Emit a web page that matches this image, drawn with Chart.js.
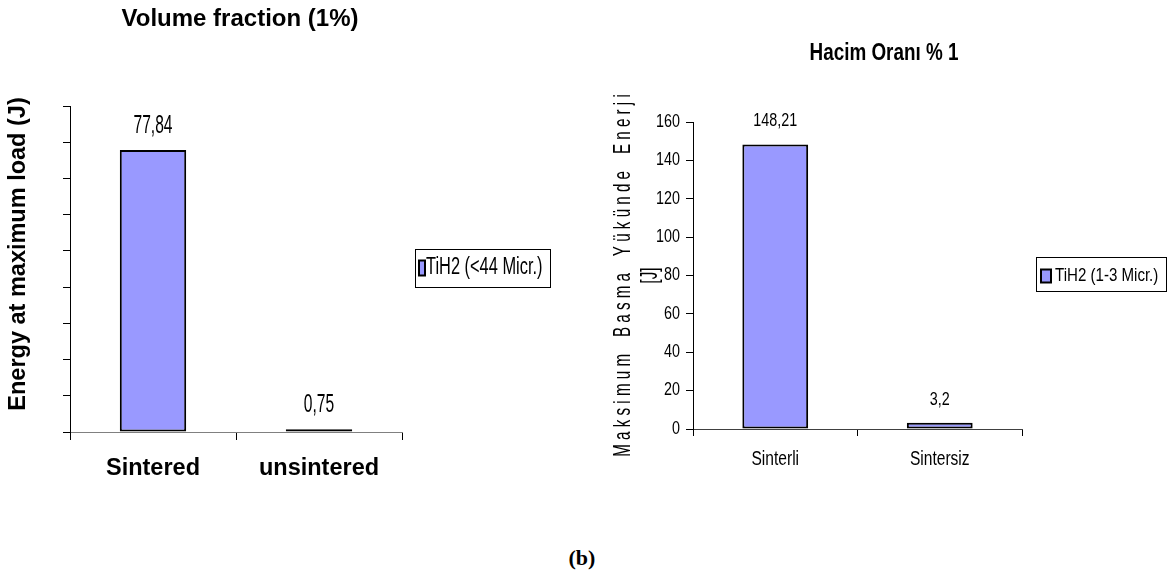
<!DOCTYPE html>
<html>
<head>
<meta charset="utf-8">
<script src="https://cdn.jsdelivr.net/npm/chart.js@4/dist/chart.umd.min.js"></script>
<style>
  html, body { margin: 0; padding: 0; background: #fff; width: 1169px; height: 572px; overflow: hidden; }
  canvas { position: absolute; top: 0; }
  #energyEn { left: 0; }
  #energyTr { left: 580px; }
  #caption { position: absolute; left: 0; width: 1164px; top: 545px; text-align: center;
             font: bold 22px 'Liberation Serif', 'Times New Roman', serif; color: #000; }
</style>
</head>
<body>
<canvas id="energyEn" width="580" height="500"></canvas>
<canvas id="energyTr" width="589" height="500"></canvas>
<div id="caption">(b)</div>
<script>
// Panel (English): energy at maximum load, 1% volume fraction
const categoriesEn = ['Sintered', 'unsintered'];
const valuesEn = [77.84, 0.75];
const seriesNameEn = 'TiH2 (<44 Micr.)';
const titleEn = 'Volume fraction (1%)';
const yTitleEn = 'Energy at maximum load (J)';
const yRangeEn = [0, 90, 10];

// Panel (Turkish): same quantity for the finer powder
const categoriesTr = ['Sinterli', 'Sintersiz'];
const valuesTr = [148.21, 3.2];
const seriesNameTr = 'TiH2 (1-3 Micr.)';
const titleTr = 'Hacim Oranı % 1';
const yTitleTr = ['M a k s i m u m    B a s m a    Y ü k ü n d e    E n e r j i', '[J]'];
const yRangeTr = [0, 160, 20];

const SANS = "'Liberation Sans', Arial, sans-serif";
const BAR_FILL = '#9999FF';
const NARROW_X = 0.82;   // horizontal squeeze that turns Arial metrics into Arial Narrow

// Draw text anchored at (x, y) with an extra scale applied around the anchor
function shapedText(ctx, txt, x, y, sx, sy) {
  ctx.save();
  ctx.translate(x, y);
  ctx.scale(sx, sy);
  ctx.fillText(txt, 0, 0);
  ctx.restore();
}

// Run fn while every fillText on ctx is squeezed/stretched around its own anchor
function withShape(ctx, sx, sy, fn) {
  const base = CanvasRenderingContext2D.prototype.fillText;
  ctx.fillText = function (t, x, y, mw) {
    this.save();
    this.translate(x, y);
    this.scale(sx, sy);
    if (mw === undefined) base.call(this, t, 0, 0);
    else base.call(this, t, 0, 0, mw / sx);
    this.restore();
  };
  try { fn(); } finally { delete ctx.fillText; }
}

function wrapScaleDraw(scale, method, s) {
  const orig = scale[method];
  scale[method] = function (...a) {
    const ctx = this.ctx;
    ctx.save();
    if (s.dy) ctx.translate(0, s.dy);
    withShape(ctx, s.sx, s.sy, () => orig.apply(this, a));
    ctx.restore();
  };
}

function makeGlyphShape(spec) {
  return {
    id: 'glyphShape',
    beforeDraw(chart) {
      Object.keys(spec).forEach(id => {
        const scale = chart.scales[id];
        if (!scale || scale.$shaped) return;
        scale.$shaped = true;
        if (spec[id].labels) wrapScaleDraw(scale, 'drawLabels', spec[id].labels);
        if (spec[id].title) wrapScaleDraw(scale, 'drawTitle', spec[id].title);
      });
    }
  };
}

// Value labels, boxed legend and panel title drawn on top of the bars
const panelDecor = {
  id: 'panelDecor',
  afterDatasetsDraw(chart, args, o) {
    const ctx = chart.ctx;
    const ds = chart.data.datasets[0];
    const meta = chart.getDatasetMeta(0);
    ctx.save();
    ctx.fillStyle = '#000';
    ctx.textAlign = 'center';
    ctx.textBaseline = 'middle';
    ctx.font = o.valueFont;
    meta.data.forEach((bar, i) => {
      const txt = String(ds.data[i]).replace('.', ',');
      shapedText(ctx, txt, bar.x, bar.y - o.valueGap, o.valueSx, o.valueSy);
    });
    ctx.restore();
  },
  afterDraw(chart, args, o) {
    const ctx = chart.ctx;
    const area = chart.chartArea;
    const ds = chart.data.datasets[0];
    ctx.save();
    // panel title
    ctx.fillStyle = '#000';
    ctx.textAlign = 'center';
    ctx.textBaseline = 'middle';
    ctx.font = o.titleFont;
    shapedText(ctx, o.title, o.titleX, o.titleY, o.titleSx, 1);
    // boxed legend
    const L = o.legend;
    const bx = area.right + L.dx;
    const cy = (area.top + area.bottom) / 2 + L.dy;
    const by = cy - L.h / 2;
    ctx.lineWidth = 1;
    ctx.strokeStyle = '#000';
    ctx.strokeRect(Math.round(bx) + 0.5, Math.round(by) + 0.5, L.w, L.h);
    const mx = bx + L.markerX, my = cy - L.markerH / 2 + L.markerDy;
    ctx.fillStyle = ds.backgroundColor;
    ctx.fillRect(mx, my, L.markerW, L.markerH);
    ctx.lineWidth = 2;
    ctx.strokeRect(mx, my, L.markerW, L.markerH);
    ctx.fillStyle = '#000';
    ctx.textAlign = 'left';
    ctx.font = L.font;
    shapedText(ctx, ds.label, bx + L.textX, cy + L.textDy, L.sx, L.sy);
    ctx.restore();
  }
};

function barChart(id, cats, vals, name, range, cfg) {
  return new Chart(document.getElementById(id), {
    type: 'bar',
    data: {
      labels: cats,
      datasets: [{
        label: name,
        data: vals,
        backgroundColor: BAR_FILL,
        borderColor: '#000',
        borderWidth: 2,
        borderSkipped: false,
        barPercentage: 0.4,
        categoryPercentage: 1
      }]
    },
    options: {
      responsive: false,
      animation: false,
      devicePixelRatio: 1,
      layout: { padding: cfg.padding },
      plugins: {
        legend: { display: false },
        tooltip: { enabled: false },
        panelDecor: cfg.decor
      },
      scales: {
        x: {
          grid: { offset: true, drawOnChartArea: false, tickLength: cfg.xTick, color: '#000' },
          border: { color: cfg.xAxisColor, width: 1 },
          ticks: { font: cfg.xFont, color: '#000', padding: cfg.xPad, maxRotation: 0, autoSkip: false },
          afterFit(s) { s.height = cfg.xHeight; }
        },
        y: {
          min: range[0],
          max: range[1],
          ticks: { stepSize: range[2], display: cfg.yLabels, font: cfg.yFont, color: '#000', padding: 6 },
          grid: { drawOnChartArea: false, tickLength: 7, color: '#000' },
          border: { color: '#000', width: 1 },
          title: { display: true, text: cfg.yTitle, color: '#000', font: cfg.yTitleFont, padding: { top: cfg.yTitlePad, bottom: 0 } },
          afterFit(s) { s.width = cfg.yWidth; }
        }
      }
    },
    plugins: [panelDecor, makeGlyphShape(cfg.shape)]
  });
}

barChart('energyEn', categoriesEn, valuesEn, seriesNameEn, yRangeEn, {
  padding: { top: 106, right: 178, bottom: 0, left: 0 },
  xTick: 8, xPad: 14, xHeight: 68, xAxisColor: '#808080',
  xFont: { family: SANS, size: 23.5, weight: 'bold' },
  yLabels: false, yFont: { family: SANS, size: 17 }, yWidth: 70,
  yTitle: yTitleEn, yTitleFont: { family: SANS, size: 23.5, weight: 'bold' }, yTitlePad: 4,
  shape: {
    y: { title: { sx: 1, sy: 1, dy: -15 } }
  },
  decor: {
    valueFont: '19px ' + SANS, valueGap: 24, valueSx: NARROW_X, valueSy: 1.35,
    title: titleEn, titleFont: 'bold 24px ' + SANS, titleX: 240, titleY: 19, titleSx: 1,
    legend: { dx: 13, dy: -1, w: 135, h: 38, markerX: 4, markerW: 6, markerH: 15, markerDy: 0,
              textX: 11, textDy: 0, font: '20px ' + SANS, sx: NARROW_X, sy: 1.15 }
  }
});

barChart('energyTr', categoriesTr, valuesTr, seriesNameTr, yRangeTr, {
  padding: { top: 122, right: 147, bottom: 0, left: 0 },
  xTick: 7, xPad: 12, xHeight: 71, xAxisColor: '#404040',
  xFont: { family: SANS, size: 19 },
  yLabels: true, yFont: { family: SANS, size: 17.5 }, yWidth: 113,
  yTitle: yTitleTr, yTitleFont: { family: SANS, size: 18.5, lineHeight: '27px' }, yTitlePad: 29.5,
  shape: {
    x: { labels: { sx: NARROW_X, sy: 1.1 } },
    y: { labels: { sx: NARROW_X, sy: 1 }, title: { sx: NARROW_X, sy: 1.3 } }
  },
  decor: {
    valueFont: '17.5px ' + SANS, valueGap: 23, valueSx: NARROW_X, valueSy: 1,
    title: titleTr, titleFont: 'bold 23px ' + SANS, titleX: 304, titleY: 54, titleSx: NARROW_X,
    legend: { dx: 14, dy: -1.5, w: 130, h: 34, markerX: 5, markerW: 10, markerH: 13, markerDy: 2,
              textX: 19, textDy: 2, font: '18.4px ' + SANS, sx: NARROW_X, sy: 1 }
  }
});
</script>
</body>
</html>
